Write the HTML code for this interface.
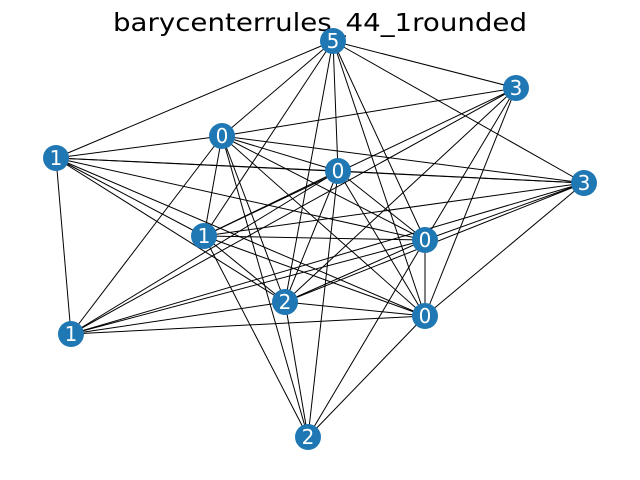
<!DOCTYPE html>
<html><head><meta charset="utf-8"><style>
body{margin:0;background:#fff;width:640px;height:480px;overflow:hidden}
svg{display:block}
</style></head><body>
<svg id="g" width="640" height="480">
<text x="320" y="31" text-anchor="middle" font-family="DejaVu Sans, Liberation Sans, sans-serif" font-size="25" textLength="414" lengthAdjust="spacingAndGlyphs">barycenterrules_44_1rounded</text>
</svg>
<script>
const nodeLabels=["5","3","0","1","0","3","1","0","2","0","1","2"];
const nodeX=[333,516,222,56,338,584,204,425,285,425,71,308];
const nodeY=[41,88,136,158,171,183,236,240,302,316,334,437];
const edgeList=[[0,3],[0,2],[0,6],[0,8],[0,4],[0,7],[0,9],[0,1],[0,5],
[1,2],[1,6],[1,10],[1,8],[1,7],[1,9],
[2,3],[2,6],[2,10],[2,8],[2,11],[2,4],[2,5],[2,7],[2,9],
[3,4],[3,5],[3,7],[3,9],[3,8],[3,10],[3,6],
[4,6],[4,10],[4,8],[4,11],[4,7],[4,9],[4,5],
[5,6],[5,7],[5,8],[5,10],[5,9],
[6,7],[6,9],[6,8],[6,11],
[7,8],[7,10],[7,9],[7,11],
[8,9],[8,10],[8,11],[9,10],[9,11]];
const svg=document.getElementById('g');
const NS='http://www.w3.org/2000/svg';
edgeList.forEach(e=>{
 const l=document.createElementNS(NS,'line');
 l.setAttribute('x1',nodeX[e[0]]);l.setAttribute('y1',nodeY[e[0]]);
 l.setAttribute('x2',nodeX[e[1]]);l.setAttribute('y2',nodeY[e[1]]);
 l.setAttribute('stroke','#000');l.setAttribute('stroke-width','1');
 
 
 svg.appendChild(l);
});
nodeLabels.forEach((t,i)=>{
 const c=document.createElementNS(NS,'circle');
 c.setAttribute('cx',nodeX[i]);c.setAttribute('cy',nodeY[i]);c.setAttribute('r',13);
 c.setAttribute('fill','#1f78b4');
 
 
 svg.appendChild(c);
 const tx=document.createElementNS(NS,'text');
 tx.setAttribute('x',nodeX[i]);tx.setAttribute('y',nodeY[i]+7);
 tx.setAttribute('text-anchor','middle');tx.setAttribute('fill','#fff');
 tx.setAttribute('font-size','20');tx.setAttribute('font-family','DejaVu Sans, Liberation Sans, sans-serif');
 tx.textContent=t;
 
 
 svg.appendChild(tx);
});
</script>
</body></html>
